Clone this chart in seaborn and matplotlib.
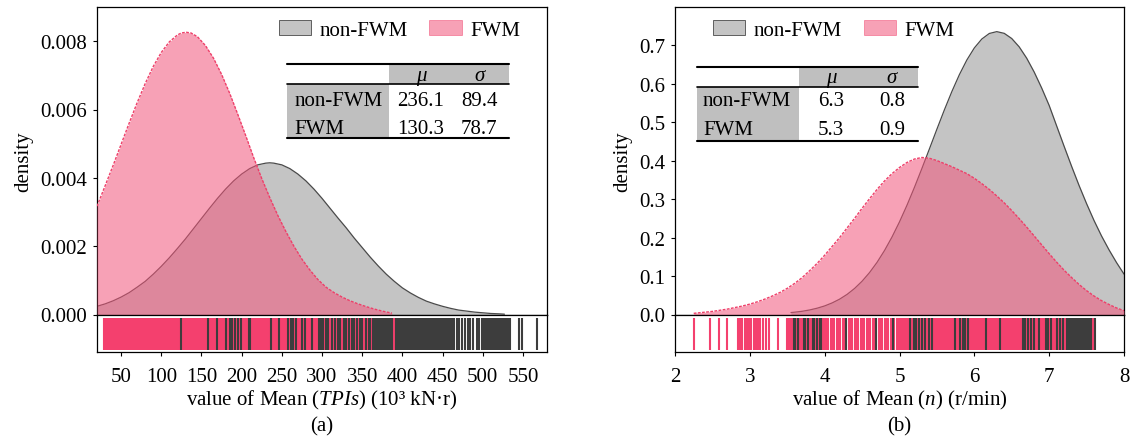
import matplotlib
matplotlib.use("Agg")
import matplotlib.pyplot as plt
from matplotlib.patches import Patch, Rectangle
from matplotlib.lines import Line2D
from matplotlib.ticker import FormatStrFormatter
import seaborn as sns

groups = ["non-FWM", "FWM"]

# ---------------- Mean of TPIs (10^3 kN·r) ----------------
tpi_x_nonfwm = [20, 30, 40, 50, 60, 70, 80, 90, 100, 110, 120, 130, 140, 150, 160, 170, 180,
                190, 200, 210, 220, 230, 235, 240, 250, 260, 270, 280, 290, 300, 310, 320,
                330, 340, 350, 360, 370, 380, 390, 400, 410, 420, 430, 440, 450, 460, 470,
                480, 490, 500, 510, 520, 527]
tpi_d_nonfwm = [0.00024, 0.00031, 0.00040, 0.00051, 0.00064, 0.00080, 0.00097, 0.00118,
                0.00141, 0.00166, 0.00193, 0.00221, 0.00251, 0.00281, 0.00311, 0.00340,
                0.00367, 0.00391, 0.00411, 0.00427, 0.00438, 0.00443, 0.00444, 0.00443,
                0.00438, 0.00427, 0.00411, 0.00391, 0.00367, 0.00340, 0.00311, 0.00282,
                0.00254, 0.00224, 0.00196, 0.00168, 0.00142, 0.00118, 0.00097, 0.00078,
                0.00063, 0.00050, 0.00039, 0.00031, 0.00024, 0.00018, 0.00013, 0.00010,
                0.00007, 0.00005, 0.00003, 0.00002, 0.00001]
tpi_x_fwm = [20, 30, 40, 50, 60, 70, 80, 90, 100, 110, 120, 125, 131, 137, 145, 155, 165,
             175, 185, 195, 205, 215, 225, 235, 245, 255, 265, 275, 285, 295, 305, 315, 325,
             335, 345, 355, 365, 375, 387]
tpi_d_fwm = [0.00317, 0.00376, 0.00436, 0.00498, 0.00560, 0.00620, 0.00676, 0.00726,
             0.00767, 0.00798, 0.00818, 0.00824, 0.00826, 0.00824, 0.00813, 0.00787,
             0.00750, 0.00703, 0.00648, 0.00587, 0.00524, 0.00459, 0.00398, 0.00342,
             0.00290, 0.00243, 0.00200, 0.00162, 0.00130, 0.00102, 0.00080, 0.00064,
             0.00051, 0.00040, 0.00031, 0.00023, 0.00016, 0.00010, 0.00004]

tpi_rug_fwm = [
    28.3, 30.6, 32.9, 35.3, 37.8, 40.1, 42.5, 44.8, 47.2, 49.7, 52.0, 54.4, 56.7, 59.1,
    61.6, 63.9, 66.3, 68.6, 71.0, 73.5, 75.8, 78.2, 80.5, 82.9, 85.4, 87.7, 90.1, 92.4,
    94.8, 97.3, 99.6, 102.0, 104.3, 106.7, 109.2, 111.5, 113.9, 116.2, 118.6, 121.1,
    123.4, 125.8, 128.1, 130.5, 133.0, 135.3, 137.7, 140.0, 142.4, 144.9, 147.2, 149.6,
    151.9, 154.3, 156.8, 159.1, 161.5, 163.8, 166.2, 168.7, 171.0, 173.4, 175.7, 178.1,
    180.6, 182.9, 185.3, 187.6, 190.0, 192.5, 194.8, 197.2, 199.5, 201.9, 204.4, 206.7,
    209.1, 211.4, 213.8, 216.3, 218.6, 221.0, 223.3, 225.7, 228.2, 230.5, 232.9, 235.2,
    237.6, 240.1, 242.4, 244.8, 247.1, 249.5, 252.0, 254.3, 256.7, 259.0, 261.4, 263.9,
    266.2, 268.6, 270.9, 273.3, 275.8, 278.1, 280.5, 282.8, 285.2, 287.7, 290.0, 292.4,
    294.7, 297.1, 299.5, 303.6, 309.8, 314.1, 318.2, 325.0, 331.6, 335.2, 341.8, 345.3,
    352.1, 356.0, 361.4, 389.8]
tpi_rug_nonfwm = [
    124.0, 157.6, 169.2, 181.0, 185.1, 188.6, 191.9, 195.3, 199.4, 209.0, 210.6, 236.2,
    246.0, 258.1, 261.3, 264.2, 268.0, 275.2, 279.1, 287.4, 296.0, 299.2, 301.8, 305.4,
    307.6, 311.9, 316.0, 320.3, 322.6, 327.1, 329.4, 333.3, 337.5, 339.7, 343.6, 347.6,
    349.8, 354.2, 358.1, 359.9, 363.0, 365.3, 367.7, 370.1, 372.4, 374.8, 377.2, 379.6,
    381.9, 384.3, 386.0, 387.6, 392.0, 393.9, 395.3, 397.6, 400.0, 402.4, 404.8, 407.1,
    409.5, 411.9, 414.3, 416.6, 419.0, 421.4, 423.8, 426.1, 428.5, 430.9, 433.3, 435.6,
    438.0, 440.4, 442.8, 445.1, 447.5, 449.9, 452.3, 454.6, 457.0, 459.4, 461.8, 464.1,
    467.8, 470.9, 474.5, 478.0, 481.1, 484.3, 487.8, 492.3, 495.9, 498.5, 501.4, 503.9,
    505.5, 508.0, 510.1, 512.2, 515.0, 517.2, 518.4, 520.4, 522.2, 523.8, 525.4, 527.5,
    529.6, 532.1, 533.7, 545.3, 549.5, 567.6]
tpi_mu = [236.1, 130.3]
tpi_sigma = [89.4, 78.7]
tpi_xticks = [50, 100, 150, 200, 250, 300, 350, 400, 450, 500, 550]
tpi_yticks = [0.000, 0.002, 0.004, 0.006, 0.008]

# ---------------- Mean of n (r/min) ----------------
n_x_nonfwm = [3.55, 3.6, 3.7, 3.8, 3.9, 4.0, 4.1, 4.2, 4.3, 4.4, 4.5, 4.6, 4.7, 4.8, 4.9,
              5.0, 5.1, 5.2, 5.3, 5.4, 5.5, 5.6, 5.7, 5.8, 5.9, 6.0, 6.1, 6.2, 6.3, 6.4,
              6.5, 6.6, 6.7, 6.8, 6.9, 7.0, 7.1, 7.2, 7.3, 7.4, 7.5, 7.6, 7.7, 7.8, 7.9, 8.0]
n_d_nonfwm = [0.005, 0.006, 0.0084, 0.0118, 0.0164, 0.0223, 0.0301, 0.0399, 0.0523, 0.0677,
              0.0865, 0.109, 0.1355, 0.1663, 0.2014, 0.2407, 0.2839, 0.3305, 0.3797, 0.4304,
              0.4816, 0.5318, 0.5794, 0.6231, 0.6613, 0.6926, 0.7158, 0.7302, 0.735, 0.7305,
              0.7171, 0.6953, 0.6659, 0.6299, 0.5885, 0.5432, 0.490, 0.437, 0.385, 0.335,
              0.288, 0.244, 0.204, 0.168, 0.135, 0.105]
n_x_fwm = [2.25, 2.4, 2.5, 2.6, 2.7, 2.8, 2.9, 3.0, 3.1, 3.2, 3.3, 3.4, 3.5, 3.6, 3.7, 3.8,
           3.9, 4.0, 4.1, 4.2, 4.3, 4.4, 4.5, 4.6, 4.7, 4.8, 4.9, 5.0, 5.1, 5.2, 5.3, 5.4,
           5.5, 5.6, 5.7, 5.8, 5.9, 6.0, 6.1, 6.2, 6.3, 6.4, 6.5, 6.6, 6.7, 6.8, 6.9, 7.0,
           7.1, 7.2, 7.3, 7.4, 7.5, 7.6, 7.7, 7.8, 7.9, 8.0]
n_d_fwm = [0.003, 0.006, 0.008, 0.011, 0.014, 0.018, 0.022, 0.027, 0.033, 0.040, 0.048,
           0.057, 0.068, 0.081, 0.096, 0.114, 0.133, 0.154, 0.177, 0.200, 0.225, 0.250,
           0.276, 0.301, 0.325, 0.347, 0.366, 0.382, 0.395, 0.404, 0.408, 0.406, 0.400,
           0.392, 0.384, 0.375, 0.366, 0.354, 0.340, 0.325, 0.308, 0.290, 0.270, 0.249,
           0.227, 0.204, 0.181, 0.158, 0.136, 0.115, 0.096, 0.078, 0.062, 0.048, 0.036,
           0.026, 0.017, 0.010]

n_rug_fwm = [
    2.25, 2.47, 2.59, 2.69, 2.84, 2.87, 2.90, 2.93, 2.96, 2.99, 3.02, 3.05, 3.08, 3.11,
    3.14, 3.18, 3.22, 3.25, 3.37, 3.49, 3.51, 3.54, 3.56, 3.58, 3.61, 3.63, 3.66, 3.68,
    3.71, 3.73, 3.76, 3.78, 3.81, 3.83, 3.86, 3.88, 3.91, 3.93, 3.96, 3.98, 4.00, 4.02,
    4.05, 4.08, 4.10, 4.13, 4.16, 4.18, 4.21, 4.24, 4.26, 4.29, 4.32, 4.34, 4.37, 4.40,
    4.42, 4.45, 4.48, 4.50, 4.53, 4.56, 4.58, 4.61, 4.64, 4.66, 4.69, 4.72, 4.74, 4.77,
    4.80, 4.82, 4.85, 4.88, 4.90, 4.93, 4.96, 4.98, 5.01, 5.04, 5.06, 5.09, 5.12, 5.14,
    5.17, 5.20, 5.22, 5.25, 5.28, 5.30, 5.33, 5.36, 5.38, 5.41, 5.44, 5.46, 5.49, 5.52,
    5.54, 5.57, 5.60, 5.62, 5.65, 5.68, 5.70, 5.73, 5.76, 5.78, 5.81, 5.84, 5.86, 5.89,
    5.92, 5.94, 5.97, 6.00, 6.02, 6.05, 6.08, 6.10, 6.13, 6.16, 6.18, 6.21, 6.24, 6.26,
    6.29, 6.32, 6.34, 6.37, 6.40, 6.42, 6.45, 6.48, 6.50, 6.53, 6.56, 6.58, 6.61, 6.64,
    6.66, 6.69, 6.72, 6.74, 6.77, 6.80, 6.82, 6.85, 6.88, 6.90, 6.93, 6.96, 6.98, 7.01,
    7.04, 7.06, 7.09, 7.12, 7.14, 7.17, 7.20, 7.22, 7.58]
n_rug_nonfwm = [
    3.59, 3.60, 3.64, 3.65, 3.73, 3.74, 3.78, 3.85, 3.86, 3.90, 3.94, 3.95, 4.28, 4.69,
    4.91, 5.14, 5.19, 5.22, 5.26, 5.30, 5.34, 5.39, 5.43, 5.74, 5.81, 5.85, 5.88, 5.91,
    6.15, 6.34, 6.65, 6.68, 6.72, 6.76, 6.80, 6.86, 6.96, 6.99, 7.03, 7.10, 7.15, 7.19,
    7.24, 7.27, 7.29, 7.32, 7.35, 7.37, 7.40, 7.43, 7.45, 7.48, 7.51, 7.53, 7.56, 7.61]
n_mu = [6.3, 5.3]
n_sigma = [0.8, 0.9]
n_xticks = [2, 3, 4, 5, 6, 7, 8]
n_yticks = [0.0, 0.1, 0.2, 0.3, 0.4, 0.5, 0.6, 0.7]

# ---------------- style ----------------
GRAY_FILL = "#c4c4c4"
GRAY_LINE = "#4a4a4a"
PINK = "#f2557b"
PINK_LINE = "#ee3f69"
PINK_RUG = "#f4406e"
DARK_RUG = "#3d3d3d"
CELL_GRAY = "#bfbfbf"
FS = 15

sns.set_style("ticks")
plt.rcParams.update({
    "font.family": ["Liberation Serif", "DejaVu Serif"],
    "mathtext.fontset": "custom",
    "mathtext.rm": "Liberation Serif",
    "mathtext.it": "Liberation Serif:italic",
    "axes.edgecolor": "black",
    "axes.linewidth": 0.9,
    "axes.labelcolor": "black",
    "text.color": "black",
    "xtick.color": "black",
    "ytick.color": "black",
    "xtick.direction": "out",
    "ytick.direction": "out",
    "xtick.major.size": 3,
    "ytick.major.size": 3,
    "xtick.major.width": 0.8,
    "ytick.major.width": 0.8,
})

W, H = 1131, 439
fig = plt.figure(figsize=(W / 100, H / 100), dpi=100)


def fx(px):
    return px / W


def fy(py):
    return 1 - py / H


def draw_table(ax, mus, sigmas, fmt, x0, xs, x1, y_top, y_head, y_bot,
               x_name, x_mu, x_sig, y_hdr, y_rows):
    T = ax.transAxes
    ax.add_patch(Rectangle((xs, y_head), x1 - xs, y_top - y_head, transform=T,
                           facecolor=CELL_GRAY, edgecolor="none", zorder=5))
    ax.add_patch(Rectangle((x0, y_bot), xs - x0, y_head - y_bot, transform=T,
                           facecolor=CELL_GRAY, edgecolor="none", zorder=5))
    for y, lw in [(y_top, 1.5), (y_head, 1.2), (y_bot, 1.5)]:
        ax.add_line(Line2D([x0, x1], [y, y], transform=T, color="black", lw=lw, zorder=6))
    ax.text(x_mu, y_hdr, "μ", style="italic", transform=T, ha="center", va="center",
            fontsize=FS, zorder=7)
    ax.text(x_sig, y_hdr, "σ", style="italic", transform=T, ha="center", va="center",
            fontsize=FS, zorder=7)
    for name, m, s, y in zip(groups, mus, sigmas, y_rows):
        ax.text(x_name, y, name, transform=T, ha="left", va="center", fontsize=FS, zorder=7)
        ax.text(x_mu, y, fmt.format(m), transform=T, ha="center", va="center",
                fontsize=FS, zorder=7)
        ax.text(x_sig, y, fmt.format(s), transform=T, ha="center", va="center",
                fontsize=FS, zorder=7)


def draw_panel(left_px, right_px, xlim, ylim, xticks, yticks, yfmt,
               xa, da, xb, db, rug_a, rug_b, xlabel, tag, mus, sigmas, sfmt,
               table_geom, legend_center):
    top, dens_bottom, frame_bottom = 8, 315.5, 353
    ax_d = fig.add_axes([fx(left_px), fy(dens_bottom), fx(right_px - left_px),
                         (dens_bottom - top) / H])
    ax_f = fig.add_axes([fx(left_px), fy(frame_bottom), fx(right_px - left_px),
                         (frame_bottom - dens_bottom) / H], sharex=ax_d)
    ax_r = fig.add_axes([fx(left_px), fy(350.5), fx(right_px - left_px), 32 / H],
                        sharex=ax_d)
    ax_r.axis("off")
    ax_r.patch.set_visible(False)

    # density curves: non-FWM underneath, FWM translucent on top
    ax_d.fill_between(xa, da, color=GRAY_FILL, lw=0, zorder=1)
    sns.lineplot(x=xa, y=da, ax=ax_d, color=GRAY_LINE, lw=0.9, zorder=2)
    ax_d.fill_between(xb, db, color=PINK, alpha=0.55, lw=0, zorder=3)
    sns.lineplot(x=xb, y=db, ax=ax_d, color=PINK_LINE, lw=1.0,
                 linestyle=(0, (2.0, 1.0)), zorder=4)

    # rug of individual observations
    sns.rugplot(x=rug_b, ax=ax_r, height=1, color=PINK_RUG, linewidth=1.5,
                expand_margins=False)
    sns.rugplot(x=rug_a, ax=ax_r, height=1, color=DARK_RUG, linewidth=1.5,
                expand_margins=False)

    ax_d.set_xlim(*xlim)
    ax_d.set_ylim(*ylim)
    ax_d.set_yticks(yticks)
    ax_d.yaxis.set_major_formatter(FormatStrFormatter(yfmt))
    ax_d.tick_params(axis="x", bottom=False, labelbottom=False)
    ax_d.tick_params(axis="y", labelsize=FS, pad=4)
    ax_d.set_xlabel("")
    ax_d.set_ylabel("density", fontsize=FS, labelpad=5)

    ax_f.set_yticks([])
    ax_f.set_xticks(xticks)
    ax_f.tick_params(axis="x", labelsize=FS, pad=8)
    ax_f.set_xlabel(xlabel, fontsize=FS, labelpad=1)

    fig.text(fx((left_px + right_px) / 2), fy(427), tag, ha="center", va="center",
             fontsize=FS)

    handles = [
        Patch(facecolor=GRAY_FILL, edgecolor=GRAY_LINE, lw=0.6, label=groups[0]),
        Patch(facecolor=PINK, alpha=0.55, edgecolor=PINK_LINE, lw=0.6, label=groups[1]),
    ]
    ax_d.legend(handles=handles, loc="center", bbox_to_anchor=legend_center, ncol=2,
                frameon=False, fontsize=FS, handlelength=1.55, handleheight=0.7,
                handletextpad=0.4, columnspacing=1.05, borderpad=0, borderaxespad=0)

    draw_table(ax_d, mus, sigmas, sfmt, *table_geom)
    return ax_d


draw_panel(97, 547, (20, 580), (0, 0.009), tpi_xticks, tpi_yticks, "%.3f",
           tpi_x_nonfwm, tpi_d_nonfwm, tpi_x_fwm, tpi_d_fwm,
           tpi_rug_nonfwm, tpi_rug_fwm,
           "value of Mean ($\\mathit{TPIs}$) (10³ kN·r)", "(a)", tpi_mu, tpi_sigma, "{:.1f}",
           (0.422, 0.649, 0.9156, 0.8146, 0.7496, 0.574,
            0.438, 0.72, 0.849, 0.777, [0.696, 0.606]),
           (0.672, 0.925))

draw_panel(675, 1124, (2, 8), (0, 0.799), n_xticks, n_yticks, "%.1f",
           n_x_nonfwm, n_d_nonfwm, n_x_fwm, n_d_fwm,
           n_rug_nonfwm, n_rug_fwm,
           "value of Mean ($\\mathit{n}$) (r/min)", "(b)", n_mu, n_sigma, "{:.1f}",
           (0.049, 0.276, 0.541, 0.805, 0.740, 0.564,
            0.0624, 0.347, 0.483, 0.772, [0.696, 0.603]),
           (0.353, 0.925))

fig.savefig("out.png", dpi=100)
